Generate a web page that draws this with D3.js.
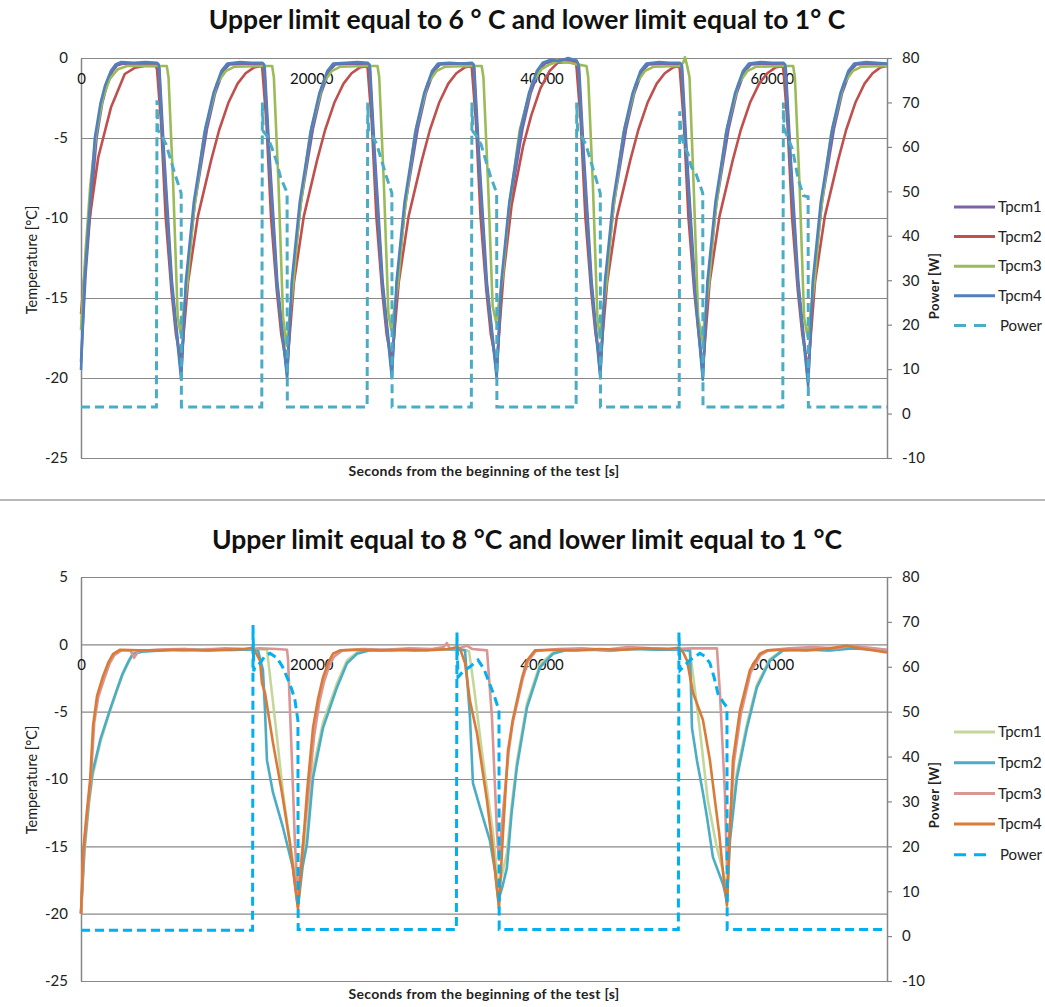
<!DOCTYPE html>
<html>
<head>
<meta charset="utf-8">
<script src="https://cdn.jsdelivr.net/npm/d3@7"></script>
<style>
  body { margin: 0; background: #fff; }
  text { font-family: Lato, "Open Sans", sans-serif; }
</style>
</head>
<body>
<div id="chart"></div>
<script>
// tick values
var xTicks = [0, 20000, 40000, 60000];
var tempTicksTop = [0, -5, -10, -15, -20, -25];
var tempTicksBottom = [5, 0, -5, -10, -15, -20, -25];
var powerTicks = [80, 70, 60, 50, 40, 30, 20, 10, 0, -10];

var seriesNames = ["Tpcm1", "Tpcm2", "Tpcm3", "Tpcm4", "Power"];

// ---- top chart: upper limit 6 C, [seconds, value] ----
var topTpcm1 = [
  [0,-19],[400,-13.5],[800,-9.7],[1350,-5],[1850,-2.8],[2250,-1.7],[2750,-0.8],[3150,-0.45],[3700,-0.35],[5000,-0.4],[6600,-0.35],
  [6800,-0.5],[7200,-5.8],[7900,-14],[8700,-19.8],
  [9150,-14],[9900,-9],[10950,-4.4],[11650,-2.2],[12350,-0.8],[12900,-0.4],[14500,-0.35],[15750,-0.35],
  [15950,-0.5],[16350,-5.8],[17050,-14],[17900,-19.8],
  [18350,-14],[19100,-9],[20150,-4.4],[20850,-2.2],[21550,-0.8],[22100,-0.4],[23500,-0.35],[24900,-0.35],
  [25100,-0.5],[25500,-5.8],[26200,-14],[27000,-19.7],
  [27450,-14],[28200,-9],[29250,-4.4],[29950,-2.2],[30650,-0.8],[31200,-0.4],[32500,-0.35],[33950,-0.35],
  [34150,-0.5],[34550,-5.8],[35250,-14],[36100,-19.8],
  [36550,-14],[37300,-9],[38350,-4.4],[39050,-2.2],[39750,-0.8],[40300,-0.35],[41000,-0.2],[42000,-0.1],[43050,-0.2],
  [43250,-0.5],[43650,-5.8],[44350,-14],[45100,-19.8],
  [45550,-14],[46300,-9],[47350,-4.4],[48050,-2.2],[48750,-0.8],[49300,-0.4],[50600,-0.35],[52000,-0.35],
  [52200,-0.5],[52600,-5.8],[53300,-14],[54000,-19.9],
  [54450,-14],[55200,-9],[56250,-4.4],[56950,-2.2],[57650,-0.8],[58200,-0.4],[59500,-0.35],[61000,-0.35],
  [61200,-0.5],[61600,-5.8],[62300,-14],[63150,-20.2],
  [63600,-14],[64350,-9],[65400,-4.4],[66100,-2.2],[66800,-0.8],[67350,-0.4],[68700,-0.35],[70000,-0.4]
];
var topTpcm2 = [
  [0,-16],[700,-10.3],[1500,-6.2],[2600,-3.1],[3800,-1],[4700,-0.6],[5500,-0.5],[6500,-0.5],
  [6600,-0.7],[6950,-4],[7350,-9.9],[7850,-14.5],[8250,-17.3],[8700,-19],
  [9300,-14],[10150,-9.9],[11300,-6.4],[12000,-4.5],[12800,-2.8],[13600,-1.6],[14300,-0.95],[15000,-0.6],[15700,-0.5],
  [15750,-0.7],[16100,-4],[16500,-9.9],[17000,-14.5],[17400,-17.3],[17900,-19.3],
  [18500,-14],[19350,-9.9],[20500,-6.4],[21200,-4.5],[22000,-2.8],[22800,-1.6],[23500,-0.95],[24200,-0.6],[24850,-0.5],
  [24900,-0.7],[25250,-4],[25650,-9.9],[26150,-14.5],[26550,-17.3],[27000,-19],
  [27600,-14],[28450,-9.9],[29600,-6.4],[30300,-4.5],[31100,-2.8],[31900,-1.6],[32600,-0.95],[33300,-0.6],[33900,-0.5],
  [33950,-0.7],[34300,-4],[34700,-9.9],[35200,-14.5],[35600,-17.3],[36100,-19.2],
  [36700,-13.5],[37400,-9.2],[38400,-5.5],[39100,-3.6],[39900,-1.9],[40700,-0.8],[41400,-0.3],[42300,-0.25],[43000,-0.35],
  [43050,-0.7],[43400,-4],[43800,-9.9],[44300,-14.5],[44700,-17.3],[45100,-19],
  [45700,-14],[46550,-9.9],[47700,-6.4],[48400,-4.5],[49200,-2.8],[50000,-1.6],[50700,-0.95],[51400,-0.6],[51950,-0.5],
  [52000,-0.7],[52350,-4],[52750,-9.9],[53250,-14.5],[53650,-17.3],[54000,-19.5],
  [54600,-14],[55450,-9.9],[56600,-6.4],[57300,-4.5],[58100,-2.8],[58900,-1.6],[59600,-0.95],[60300,-0.6],[60950,-0.5],
  [61000,-0.7],[61350,-4],[61750,-9.9],[62250,-14.5],[62650,-17.3],[63150,-19.5],
  [63750,-14],[64600,-9.9],[65750,-6.4],[66450,-4.5],[67250,-2.8],[68050,-1.6],[68750,-0.95],[69400,-0.6],[70000,-0.5]
];
var topTpcm3 = [
  [0,-17],[400,-12],[800,-8],[1300,-4.8],[1900,-2.5],[2500,-1.3],[3200,-0.7],[4000,-0.5],[6600,-0.5],
  [7450,-0.5],[7600,-1.2],[8000,-7.8],[8400,-16.2],[8650,-17.2],
  [9250,-14],[9750,-9.9],[10700,-4.7],[11800,-1.6],[12600,-0.8],[13300,-0.55],[15750,-0.5],
  [16600,-0.5],[16750,-1.2],[17150,-7.8],[17550,-16.2],[17850,-18],
  [18450,-14],[18950,-9.9],[19900,-4.7],[21000,-1.6],[21800,-0.8],[22500,-0.55],[24900,-0.5],
  [25750,-0.5],[25900,-1.2],[26300,-7.8],[26700,-16],[26950,-17],
  [27550,-14],[28050,-9.9],[29000,-4.7],[30100,-1.6],[30900,-0.8],[31600,-0.55],[33950,-0.5],
  [34800,-0.5],[34950,-1.2],[35350,-7.8],[35750,-15.5],[36050,-16.5],
  [36650,-13.5],[37150,-9.5],[38100,-4.5],[39200,-1.5],[40000,-0.7],[40700,-0.4],[41500,-0.2],[42500,-0.3],[43050,-0.4],
  [43900,-0.5],[44050,-1.2],[44450,-7.8],[44850,-16.2],[45050,-17.5],
  [45650,-14],[46150,-9.9],[47100,-4.7],[48200,-1.6],[49000,-0.8],[49700,-0.55],[52000,-0.5],
  [52300,-0.3],[52450,0.05],[52650,-0.5],[52850,-1.2],[53200,-7.8],[53600,-16.2],[53950,-17.6],
  [54550,-14],[55050,-9.9],[56000,-4.7],[57100,-1.6],[57900,-0.8],[58600,-0.55],[61000,-0.5],
  [61850,-0.5],[62000,-1.2],[62400,-7.8],[62800,-16.2],[63100,-17.4],
  [63700,-14],[64200,-9.9],[65150,-4.7],[66250,-1.6],[67050,-0.8],[67750,-0.55],[70000,-0.5]
];
var topTpcm4 = [
  [0,-19.5],[300,-14],[700,-9.9],[1200,-5],[1700,-2.8],[2100,-1.7],[2600,-0.8],[3000,-0.4],[3500,-0.25],[4600,-0.3],[5600,-0.25],[6600,-0.3],
  [6750,-0.4],[7150,-5.8],[7850,-14],[8700,-20.1],
  [9100,-14],[9800,-9],[10800,-4.4],[11500,-2.2],[12200,-0.8],[12700,-0.35],[13800,-0.25],[14800,-0.3],[15750,-0.3],
  [15900,-0.4],[16300,-5.8],[17000,-14],[17900,-20],
  [18300,-14],[19000,-9],[20000,-4.4],[20700,-2.2],[21400,-0.8],[21900,-0.35],[23000,-0.3],[24000,-0.25],[24900,-0.3],
  [25050,-0.4],[25450,-5.8],[26150,-14],[27000,-20],
  [27400,-14],[28100,-9],[29100,-4.4],[29800,-2.2],[30500,-0.8],[31000,-0.35],[32000,-0.3],[33000,-0.35],[33950,-0.3],
  [34100,-0.4],[34500,-5.8],[35200,-14],[36100,-20],
  [36500,-14],[37200,-9],[38200,-4.4],[38900,-2.2],[39600,-0.8],[40100,-0.3],[40800,-0.1],[41500,-0.2],[42300,0],[43050,-0.15],
  [43200,-0.4],[43600,-5.8],[44300,-14],[45100,-20],
  [45500,-14],[46200,-9],[47200,-4.4],[47900,-2.2],[48600,-0.8],[49100,-0.35],[50200,-0.25],[51100,-0.3],[52000,-0.3],
  [52150,-0.4],[52550,-5.8],[53250,-14],[54000,-20.1],
  [54400,-14],[55100,-9],[56100,-4.4],[56800,-2.2],[57500,-0.8],[58000,-0.35],[59000,-0.25],[60000,-0.3],[61000,-0.3],
  [61150,-0.4],[61550,-5.8],[62250,-14],[63150,-20.5],
  [63550,-14],[64250,-9],[65250,-4.4],[65950,-2.2],[66650,-0.8],[67150,-0.35],[68200,-0.25],[69100,-0.3],[70000,-0.35]
];
var topPower = [
  [0,1.5],[6550,1.5],[6600,70.5],[6680,63.8],[7000,62.5],[7400,60.5],[7800,57],[8200,53.5],[8650,50],[8700,49.5],[8720,1.5],
  [15700,1.5],[15750,70],[15830,63.5],[16150,62.5],[16550,60],[16950,57],[17350,53],[17850,50],[17900,49.5],[17920,1.5],
  [24850,1.5],[24900,70],[24980,63.5],[25300,62.5],[25700,60.5],[26100,57],[26500,53.5],[26950,50],[27000,49.5],[27020,1.5],
  [33900,1.5],[33950,70],[34030,63.5],[34350,62.5],[34750,60.5],[35150,57],[35550,53.5],[36050,50],[36100,49.5],[36120,1.5],
  [43000,1.5],[43050,70],[43130,63.5],[43450,62.5],[43850,60.5],[44250,57],[44650,53.5],[45050,50],[45100,49.5],[45120,1.5],
  [51950,1.5],[52000,68],[52080,63.8],[52400,60],[52700,58.6],[53000,55.5],[53400,54],[53950,50],[54000,49.5],[54020,1.5],
  [60950,1.5],[61000,70],[61080,64],[61350,62.3],[61800,59.4],[62300,52.6],[62750,49],[63150,48.8],[63170,1.5],
  [70000,1.5]
];

// ---- bottom chart: upper limit 8 C ----
var botTpcm1 = [
  [0,-20],[300,-15.5],[700,-11.8],[1000,-9.8],[1700,-7.2],[2500,-5],[3100,-3.5],[3600,-2.3],[4100,-1.4],[4500,-0.75],[5300,-0.5],[7000,-0.4],[9000,-0.5],[11000,-0.35],[13000,-0.45],[15000,-0.35],[16150,-0.4],
  [16300,-1.5],[16900,-6],[17540,-11],[18200,-15],[18840,-18.5],
  [19250,-16],[19630,-14],[20150,-9.3],[21020,-5.8],[22230,-2.9],[23100,-1.2],[23970,-0.6],[25000,-0.4],[27000,-0.5],[29000,-0.35],[31000,-0.4],[33000,-0.35],[33700,-0.5],
  [34100,-3],[34900,-8.5],[35780,-14],[36250,-18],
  [36600,-17],[36990,-15.5],[37400,-12],[37860,-8.7],[38730,-4.4],[39860,-1.5],[40990,-0.6],[42000,-0.4],[44000,-0.35],[46000,-0.5],[48000,-0.3],[50000,-0.4],[52000,-0.35],[52890,-0.5],
  [53700,-6],[54440,-11.6],[55200,-15],[55800,-17],[56100,-18],
  [56360,-14],[56970,-9.5],[57840,-5.9],[58700,-3],[59830,-1.1],[60960,-0.4],[63000,-0.35],[65000,-0.45],[67000,-0.25],[69000,-0.35],[70000,-0.4]
];
var botTpcm2 = [
  [0,-20],[300,-15],[700,-11.5],[1000,-9.5],[1700,-7],[2500,-4.9],[3100,-3.4],[3600,-2.2],[4100,-1.3],[4500,-0.7],[5300,-0.55],[7000,-0.45],[9000,-0.35],[11000,-0.45],[13000,-0.4],[15000,-0.4],[15370,-0.45],
  [15800,-1.9],[15980,-4.9],[16150,-8.6],[16670,-11],[17540,-13.6],[18410,-16.6],[18840,-19.5],
  [19250,-16.5],[19630,-14.8],[20150,-9.9],[21020,-6.2],[22230,-3.2],[23100,-1.4],[23970,-0.7],[25000,-0.45],[27000,-0.4],[29000,-0.45],[31000,-0.35],[33000,-0.4],[33350,-0.45],
  [33780,-5.4],[34040,-10.3],[34650,-12.1],[35520,-14.6],[35950,-16.8],[36250,-19],
  [36600,-18],[36990,-16.6],[37400,-12.5],[37860,-9.1],[38730,-4.7],[39860,-1.7],[40990,-0.7],[42000,-0.45],[44000,-0.4],[46000,-0.45],[48000,-0.35],[50000,-0.4],[52000,-0.4],[52890,-0.45],
  [53060,-6.2],[53490,-8.6],[54010,-11],[54360,-12.8],[54880,-15.8],[55750,-17.8],[56100,-19],
  [56360,-14.6],[56970,-9.9],[57840,-6.2],[58700,-3.2],[59830,-1.2],[60960,-0.45],[63000,-0.4],[65000,-0.45],[67000,-0.3],[69000,-0.4],[70000,-0.45]
];
var botTpcm3 = [
  [0,-20],[250,-15],[550,-12.5],[850,-10],[1150,-5.8],[1500,-3.9],[2000,-2.6],[2500,-1.4],[2900,-0.8],[3500,-0.45],[4300,-0.45],[4600,-1],[5000,-0.5],[6500,-0.4],[8500,-0.35],[10500,-0.4],[12500,-0.3],[14500,-0.35],[15500,-0.3],[17000,-0.35],[17890,-0.4],
  [17980,-1.1],[18320,-8.6],[18580,-14.8],[18840,-18.5],
  [19190,-15.5],[19700,-11.5],[20250,-6.8],[20700,-4.3],[21100,-2.8],[21600,-1.5],[22000,-0.9],[22700,-0.45],[24500,-0.35],[26500,-0.4],[28500,-0.3],[30500,-0.35],[31500,-0.2],[31780,0.1],[32000,-0.3],[32800,-0.3],[33500,-0.1],[34000,-0.35],[35260,-0.45],
  [35690,-5.4],[36130,-14],[36300,-16],
  [36700,-12],[37150,-7.9],[37500,-5.8],[37900,-4.3],[38350,-2.6],[38800,-1.3],[39500,-0.5],[41500,-0.35],[43500,-0.3],[45500,-0.4],[47500,-0.2],[49500,-0.3],[51500,-0.35],[53000,-0.3],[55230,-0.3],
  [55490,-3.6],[55920,-11],[56100,-16.6],
  [56400,-13],[56700,-8.8],[57300,-5.2],[58150,-2.1],[59000,-0.8],[59700,-0.45],[61500,-0.3],[63500,-0.2],[65500,-0.3],[67000,-0.1],[68500,-0.25],[70000,-0.4]
];
var botTpcm4 = [
  [0,-20],[200,-15.3],[500,-12.5],[800,-10],[1050,-6],[1400,-3.8],[1900,-2.4],[2400,-1.3],[2800,-0.7],[3400,-0.4],[5000,-0.45],[6500,-0.45],[8500,-0.4],[10500,-0.45],[12500,-0.4],[14200,-0.35],[14940,-0.25],
  [15540,-1.2],[15720,-2.9],[15980,-3.6],[16670,-7.3],[17450,-11],[18150,-14.8],[18600,-18],[18840,-19.6],
  [19190,-16],[19630,-11],[20150,-6.2],[20600,-4],[21020,-2.45],[21500,-1.3],[21880,-0.7],[22490,-0.45],[24000,-0.4],[26000,-0.45],[28000,-0.4],[30000,-0.45],[32000,-0.35],[32650,-0.2],[32910,-0.3],
  [33350,-1.4],[33780,-4.2],[34390,-6.6],[35260,-11.6],[35780,-15.3],[36300,-19.6],
  [36650,-14],[37080,-7.9],[37500,-5.6],[37860,-4.2],[38300,-2.5],[38730,-1.2],[39430,-0.45],[41000,-0.4],[43000,-0.45],[45000,-0.35],[47000,-0.4],[49000,-0.3],[51000,-0.35],[51930,-0.25],
  [52300,-0.6],[52630,-1.2],[53150,-3.6],[54010,-5.6],[54620,-8.6],[55060,-11.6],[55420,-14],[55850,-17.7],[56100,-19.4],
  [56360,-13.8],[56620,-8.6],[57230,-4.9],[58100,-1.9],[58960,-0.7],[59570,-0.45],[61000,-0.4],[63000,-0.45],[65000,-0.3],[66500,-0.1],[68000,-0.35],[70000,-0.6]
];
var botPower = [
  [0,1.3],[14900,1.3],[14940,69.3],[15000,59],[15110,60],[15540,60.8],[16000,62.5],[16410,63],[17020,62],[17500,60],[17890,57.7],[18300,55],[18580,52.6],[18840,48],[18860,1.5],
  [32600,1.5],[32650,67.7],[32740,57.7],[33200,59],[33780,60],[34480,61.5],[35000,59.5],[35520,56],[35900,53.5],[36210,51],[36300,50.5],[36320,1.5],
  [51880,1.5],[51930,67.7],[52020,59.2],[52500,60.5],[52890,61.5],[53750,63],[54200,62.3],[54620,60.8],[55000,57.5],[55320,54],[55800,52],[56100,51],[56120,1.5],
  [70000,1.5]
];

var W = 1045, H = 1007;
var svg = d3.select("#chart").append("svg")
    .attr("width", W)
    .attr("height", H);
svg.append("rect").attr("width", W).attr("height", H).attr("fill", "#fff");

// separator between the two pictures
svg.append("line").attr("x1", 0).attr("x2", W).attr("y1", 500).attr("y2", 500)
    .attr("stroke", "#a0a0a0").attr("stroke-width", 1.5);

var plain = function(d) { return String(d); };

function drawChart(cfg) {
  var x0 = 81, x1 = 887;
  var x = d3.scaleLinear().domain([0, 70000]).range([x0, x1]);
  var yT = d3.scaleLinear().domain([-25, cfg.tempMax]).range([cfg.bottom, cfg.top]);
  var yP = d3.scaleLinear().domain([-10, 80]).range([cfg.bottom, cfg.top]);

  var g = svg.append("g");

  // title
  g.append("text")
    .attr("x", 527).attr("y", cfg.titleY)
    .attr("text-anchor", "middle")
    .style("font-size", "26.5px").style("font-weight", "bold").style("fill", "#111")
    .text(cfg.title);

  // left axis + gridlines
  var left = g.append("g")
    .attr("transform", "translate(" + x0 + ",0)")
    .call(d3.axisLeft(yT).tickValues(cfg.tempTicks).tickSize(-(x1 - x0)).tickSizeOuter(0).tickPadding(13).tickFormat(plain));
  left.select(".domain").attr("stroke", "#868686").attr("stroke-width", 1.5);
  left.selectAll(".tick line").attr("stroke", "#888").attr("stroke-width", 1.2);
  left.selectAll(".tick text").style("font-size", "15px").style("fill", "#222").style("font-family", "Lato, sans-serif");

  // right axis
  var right = g.append("g")
    .attr("transform", "translate(" + x1 + ",0)")
    .call(d3.axisRight(yP).tickValues(powerTicks).tickSize(5).tickSizeOuter(0).tickPadding(10).tickFormat(plain));
  right.select(".domain").attr("stroke", "#868686").attr("stroke-width", 1.5);
  right.selectAll(".tick line").attr("stroke", "#868686").attr("stroke-width", 1.2);
  right.selectAll(".tick text").style("font-size", "15px").style("fill", "#222").style("font-family", "Lato, sans-serif");

  // x axis crosses at 0 C
  var bottomAx = g.append("g")
    .attr("transform", "translate(0," + yT(0) + ")")
    .call(d3.axisBottom(x).tickValues(xTicks).tickSize(0).tickPadding(15).tickFormat(plain));
  bottomAx.select(".domain").remove();
  bottomAx.selectAll(".tick text").style("font-size", "15px").style("fill", "#111").style("font-family", "Lato, sans-serif");

  // axis titles
  g.append("text")
    .attr("x", 484).attr("y", cfg.bottom + 18)
    .attr("text-anchor", "middle")
    .style("font-size", "14px").style("font-weight", "bold").style("fill", "#222")
    .style("letter-spacing", "0.3px")
    .text("Seconds from the beginning of the test [s]");
  g.append("text")
    .attr("transform", "translate(37," + cfg.tempLabelY + ") rotate(-90)")
    .attr("text-anchor", "middle")
    .style("font-size", "14.5px").style("fill", "#222")
    .text("Temperature [°C]");
  g.append("text")
    .attr("transform", "translate(939," + cfg.powerLabelY + ") rotate(-90)")
    .attr("text-anchor", "middle")
    .style("font-size", "13px").style("font-weight", "bold").style("fill", "#222")
    .style("letter-spacing", "0.5px")
    .text("Power [W]");

  // series
  var lineT = d3.line().x(function(d) { return x(d[0]); }).y(function(d) { return yT(d[1]); });
  var lineP = d3.line().x(function(d) { return x(d[0]); }).y(function(d) { return yP(d[1]); });

  cfg.temps.forEach(function(s, i) {
    g.append("path")
      .datum(s)
      .attr("d", lineT)
      .attr("fill", "none")
      .attr("stroke", cfg.colors[i])
      .attr("stroke-width", 2.6)
      .attr("stroke-linejoin", "round");
  });
  g.append("path")
    .datum(cfg.power)
    .attr("d", lineP)
    .attr("fill", "none")
    .attr("stroke", cfg.colors[4])
    .attr("stroke-width", 3)
    .attr("stroke-dasharray", "9,5");

  // legend
  var leg = g.append("g");
  seriesNames.forEach(function(name, i) {
    var ly = cfg.legendY + i * cfg.legendStep;
    leg.append("line")
      .attr("x1", 954).attr("x2", name == "Power" ? 988 : 995)
      .attr("y1", ly).attr("y2", ly)
      .attr("stroke", cfg.colors[i])
      .attr("stroke-width", 3)
      .attr("stroke-dasharray", name == "Power" ? "12,8" : null);
    leg.append("text")
      .attr("x", name == "Power" ? 1000 : 998).attr("y", ly)
      .attr("dy", "0.35em")
      .style("font-size", "15px").style("fill", "#222")
      .text(name);
  });
}

drawChart({
  title: "Upper limit equal to 6 ° C and lower limit equal to 1° C",
  titleY: 29, top: 58, bottom: 458, tempMax: 0, tempTicks: tempTicksTop,
  tempLabelY: 260, powerLabelY: 286,
  temps: [topTpcm1, topTpcm2, topTpcm3, topTpcm4], power: topPower,
  colors: ["#7E62A8", "#C0504D", "#9BBB59", "#4F81BD", "#4BACC6"],
  legendY: 207, legendStep: 29.6
});

drawChart({
  title: "Upper limit equal to 8 °C and lower limit equal to 1 °C",
  titleY: 549, top: 577, bottom: 981, tempMax: 5, tempTicks: tempTicksBottom,
  tempLabelY: 780, powerLabelY: 795,
  temps: [botTpcm1, botTpcm2, botTpcm3, botTpcm4], power: botPower,
  colors: ["#C4D79B", "#4BACC6", "#DA9694", "#DB7A36", "#00B0F0"],
  legendY: 732, legendStep: 30.7
});
</script>
</body>
</html>
